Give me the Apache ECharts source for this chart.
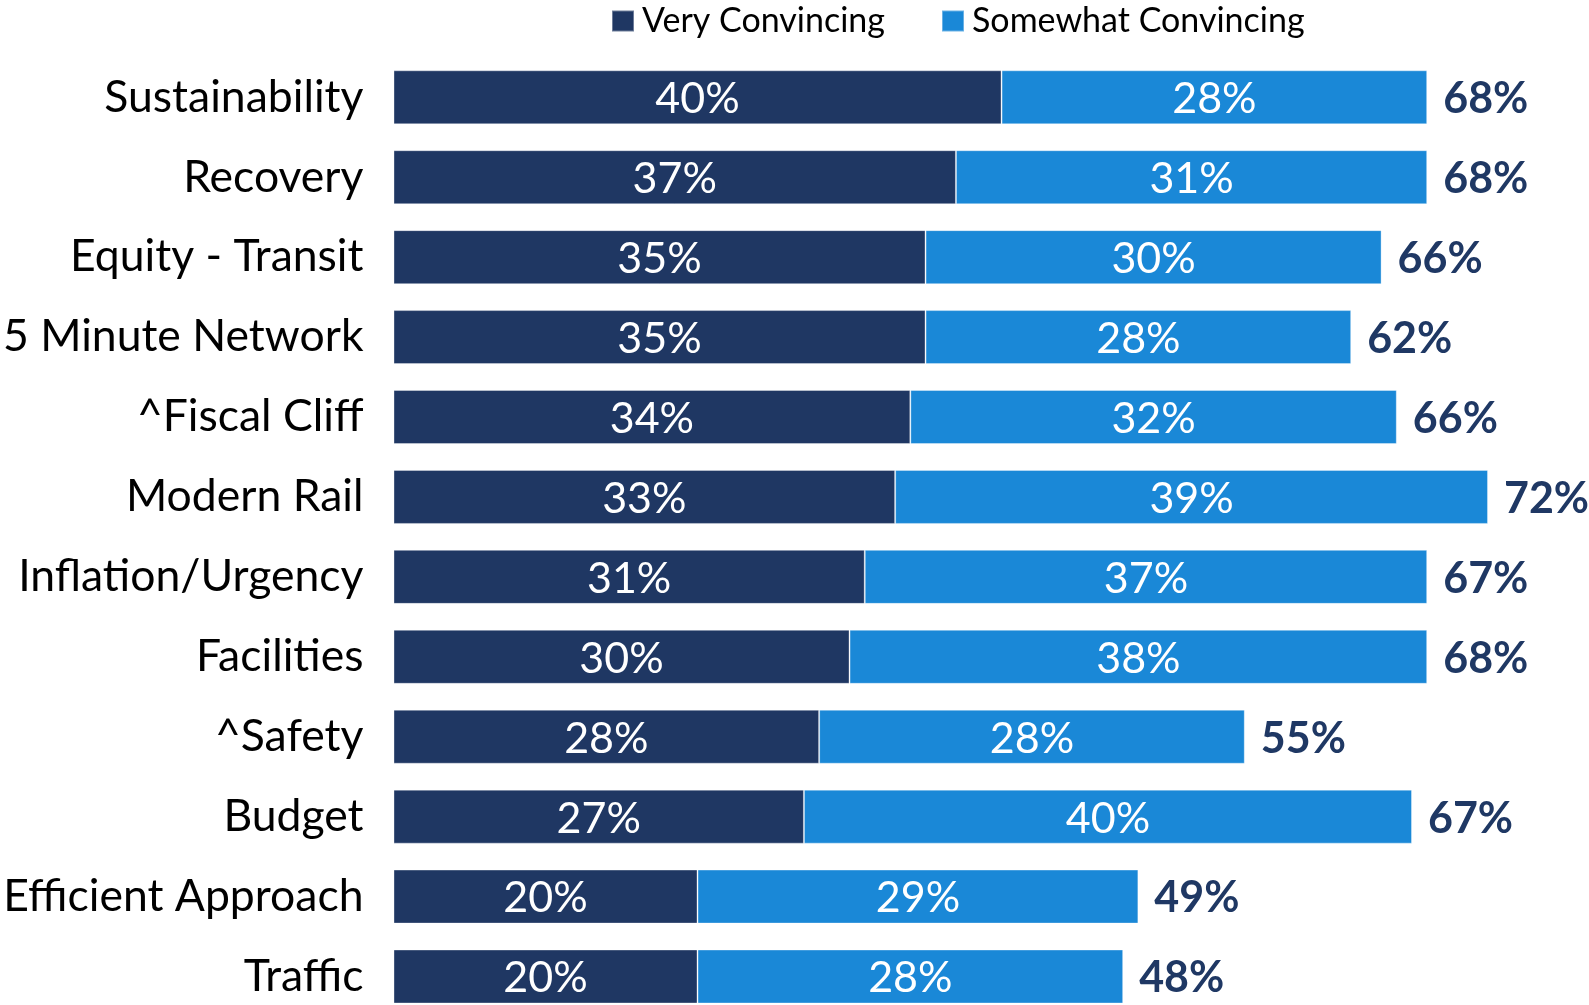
<!DOCTYPE html>
<html>
<head>
<meta charset="utf-8">
<script src="https://cdn.jsdelivr.net/npm/echarts@6/dist/echarts.min.js"></script>
<style>html,body{margin:0;padding:0;background:#fff}#c{width:1589px;height:1005px}</style>
</head>
<body>
<div id="c"></div>
<script>
const categories = ["Sustainability","Recovery","Equity - Transit","5 Minute Network","^Fiscal Cliff","Modern Rail","Inflation/Urgency","Facilities","^Safety","Budget","Efficient Approach","Traffic"];
const veryConvincing = [40,37,35,35,34,33,31,30,28,27,20,20];
const somewhatConvincing = [28,31,30,28,32,39,37,38,28,40,29,28];
const totals = [68,68,66,62,66,72,67,68,55,67,49,48];
const FONT = "Lato";
const chart = echarts.init(document.getElementById('c'));
chart.setOption({
  animation:false,
  textStyle:{fontFamily:FONT},
  legend:{
    data:["Very Convincing","Somewhat Convincing"],
    left:611, top:4, padding:0, itemWidth:22, itemHeight:21, itemGap:56,
    icon:'rect',
    textStyle:{fontFamily:FONT,fontSize:34,color:'#000',padding:[0,0,0,3]}
  },
  grid:{left:391, top:97.3, width:1188.2, height:879.2, containLabel:false},
  xAxis:{type:'value',min:0,max:78,show:false},
  yAxis:{type:'category',data:categories,inverse:true,boundaryGap:false,
    axisLine:{show:false},axisTick:{show:false},splitLine:{show:false},
    axisLabel:{fontFamily:FONT,fontSize:44.5,color:'#000',margin:30}},
  series:[
    {name:"Very Convincing",type:'bar',stack:'s',data:veryConvincing,barWidth:54,
     itemStyle:{color:'#1f3763',borderColor:'rgba(255,255,255,0.35)',borderWidth:1},
     label:{show:true,position:'inside',offset:[0,2],formatter:'{c}%',color:'#fff',fontFamily:FONT,fontSize:43}},
    {name:"Somewhat Convincing",type:'bar',stack:'s',data:somewhatConvincing,barWidth:54,
     itemStyle:{color:'#1a88d7',borderColor:'rgba(255,255,255,0.35)',borderWidth:1},
     label:{show:true,position:'inside',offset:[0,2],formatter:'{c}%',color:'#fff',fontFamily:FONT,fontSize:43}},
    {name:"Total",type:'bar',stack:'s',data:totals.map(()=>0),barWidth:54,
     itemStyle:{color:'transparent'},
     label:{show:true,position:'right',distance:16,offset:[0,2],
       formatter:p=>totals[p.dataIndex]+'%',color:'#1f3864',fontFamily:FONT,fontWeight:'bold',fontSize:43}}
  ]
});
</script>
</body>
</html>
